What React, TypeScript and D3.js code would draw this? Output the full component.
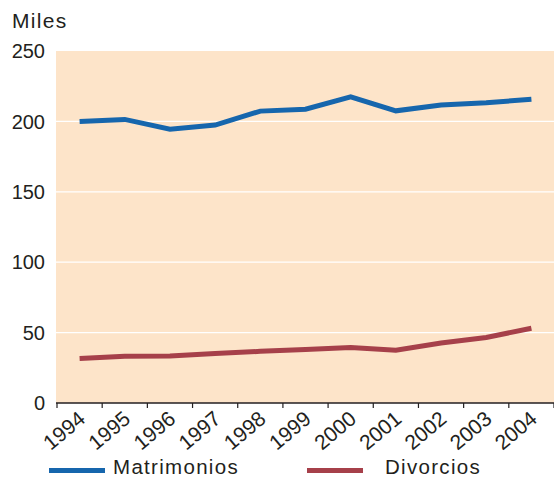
import React from "react";
import * as d3 from "d3";

const years = ["1994", "1995", "1996", "1997", "1998", "1999", "2000", "2001", "2002", "2003", "2004"];
const matrimonios = [200, 201.4, 194.5, 197.4, 207.3, 208.7, 217.5, 207.5, 211.6, 213.2, 215.8];
const divorcios = [31.6, 33.2, 33.4, 35.1, 36.7, 38, 39.4, 37.5, 42.6, 46.5, 53.1];
const yTicks = [0, 50, 100, 150, 200, 250];
const seriesNames = ["Matrimonios", "Divorcios"];

const W = 554;
const H = 477;
const left = 56;
const right = 554;
const top = 51;
const bottom = 403;
const BLUE = "#1666ad";
const RED = "#a6404a";
const BG = "#fde4c9";
const INK = "#231f20";
const FONT = "'Liberation Sans', Arial, sans-serif";

export default function App() {
  const x = d3.scaleBand<string>().domain(years).range([left + 1, right]).padding(0);
  const y = d3.scaleLinear().domain([0, 250]).range([bottom, top]);
  const cx = (d: string) => (x(d) as number) + x.bandwidth() / 2;
  const line = d3
    .line<number>()
    .x((_, i) => cx(years[i]))
    .y((v) => y(v));
  const tickXs = years.map((d) => x(d) as number).concat([right]);

  return (
    <svg
      width={W}
      height={H}
      style={{ position: "absolute", left: 0, top: 0, background: "#fff" }}
      fontFamily={FONT}
    >
      <rect x={left} y={top} width={right - left} height={bottom - top} fill={BG} />
      {yTicks
        .filter((t) => t > 0 && t < 250)
        .map((t) => (
          <line key={t} x1={left} x2={right} y1={y(t)} y2={y(t)} stroke="#fff" strokeWidth={1.2} />
        ))}
      {yTicks.map((t) => (
        <text key={t} x={45} y={y(t)} dy="0.36em" textAnchor="end" fontSize={20} fill={INK}>
          {t}
        </text>
      ))}
      <text x={12} y={28.3} fontSize={21} letterSpacing={1.3} fill={INK}>
        Miles
      </text>
      <path d={line(matrimonios) || ""} fill="none" stroke={BLUE} strokeWidth={5} strokeLinejoin="miter" />
      <path d={line(divorcios) || ""} fill="none" stroke={RED} strokeWidth={5} strokeLinejoin="miter" />
      <line x1={left} x2={right} y1={bottom} y2={bottom} stroke={INK} strokeWidth={1.5} />
      {tickXs.map((tx, i) => (
        <line key={i} x1={tx} x2={tx} y1={bottom} y2={bottom + 5} stroke={INK} strokeWidth={1.2} />
      ))}
      {years.map((d) => (
        <text
          key={d}
          transform={`translate(${cx(d) + 7},${bottom + 18}) rotate(-40)`}
          textAnchor="end"
          fontSize={21}
          fill={INK}
        >
          {d}
        </text>
      ))}
      <line x1={49} x2={105} y1={470.5} y2={470.5} stroke={BLUE} strokeWidth={5} />
      <text x={113} y={474} fontSize={20.5} letterSpacing={1.3} fill={INK}>
        {seriesNames[0]}
      </text>
      <line x1={307} x2={363} y1={470.5} y2={470.5} stroke={RED} strokeWidth={5} />
      <text x={385} y={474} fontSize={20.5} letterSpacing={1.3} fill={INK}>
        {seriesNames[1]}
      </text>
    </svg>
  );
}
